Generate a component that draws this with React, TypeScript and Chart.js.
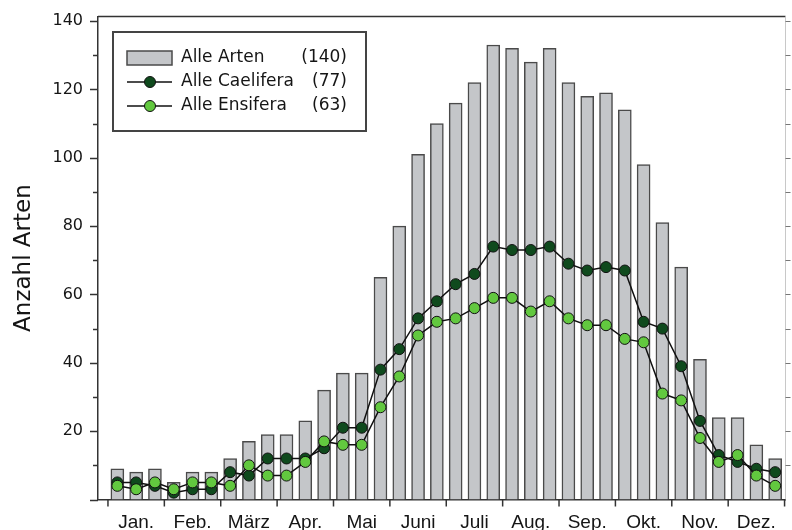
import React, { useEffect, useRef } from "react";
import { Chart, registerables } from "chart.js";

Chart.register(...registerables);

const months = ["Jan.", "Feb.", "März", "Apr.", "Mai", "Juni", "Juli", "Aug.", "Sep.", "Okt.", "Nov.", "Dez."];
const alleArten = [9, 8, 9, 5, 8, 8, 12, 17, 19, 19, 23, 32, 37, 37, 65, 80, 101, 110, 116, 122, 133, 132, 128, 132, 122, 118, 119, 114, 98, 81, 68, 41, 24, 24, 16, 12];
const caelifera = [5, 5, 4, 2, 3, 3, 8, 7, 12, 12, 12, 15, 21, 21, 38, 44, 53, 58, 63, 66, 74, 73, 73, 74, 69, 67, 68, 67, 52, 50, 39, 23, 13, 11, 9, 8];
const ensifera = [4, 3, 5, 3, 5, 5, 4, 10, 7, 7, 11, 17, 16, 16, 27, 36, 48, 52, 53, 56, 59, 59, 55, 58, 53, 51, 51, 47, 46, 31, 29, 18, 11, 13, 7, 4];
const legendLabels = ["Alle Arten", "Alle Caelifera", "Alle Ensifera"];
const legendCounts = ["(140)", "(77)", "(63)"];
const yTickValues = [20, 40, 60, 80, 100, 120, 140];
const yAxisTitle = "Anzahl Arten";

const BAR_FILL = "#c4c6c9";
const BAR_BORDER = "#4a4a4a";
const DARK_GREEN = "#0f4a1d";
const LIGHT_GREEN = "#62c83f";

const ticksPlugin = {
  id: "customTicks",
  afterDraw(chart: any) {
    const ctx = chart.ctx;
    const x = chart.scales.x;
    const y = chart.scales.y;
    const { left, right, top, bottom } = chart.chartArea;
    ctx.save();
    ctx.strokeStyle = "#333";
    ctx.lineWidth = 1.5;
    // left axis ticks
    for (let v = 0; v <= 140; v += 10) {
      const py = Math.round(y.getPixelForValue(v)) + 0.5;
      const len = v % 20 === 0 ? 8 : 5;
      ctx.beginPath();
      ctx.moveTo(left - len, py);
      ctx.lineTo(left, py);
      ctx.stroke();
    }
    // top frame
    ctx.beginPath();
    ctx.moveTo(left, top);
    ctx.lineTo(right, top);
    ctx.stroke();
    // right axis (faint) and ticks
    ctx.strokeStyle = "#c8c8c8";
    ctx.lineWidth = 1;
    ctx.beginPath();
    ctx.moveTo(right, top);
    ctx.lineTo(right, bottom);
    ctx.stroke();
    ctx.strokeStyle = "#777";
    for (let v = 10; v <= 140; v += 10) {
      const py = Math.round(y.getPixelForValue(v)) + 0.5;
      ctx.beginPath();
      ctx.moveTo(right, py);
      ctx.lineTo(right + 5, py);
      ctx.stroke();
    }
    // bottom month boundary ticks
    ctx.strokeStyle = "#333";
    ctx.lineWidth = 1.5;
    for (let m = 0; m <= 12; m++) {
      const px = x.getPixelForValue(m * 3);
      ctx.beginPath();
      ctx.moveTo(px, bottom);
      ctx.lineTo(px, bottom + 7);
      ctx.stroke();
    }
    ctx.restore();
  },
};

const legendPlugin = {
  id: "customLegend",
  afterDraw(chart: any) {
    const ctx = chart.ctx;
    const bx = 113, by = 32, bw = 253, bh = 99;
    ctx.save();
    ctx.fillStyle = "#ffffff";
    ctx.fillRect(bx, by, bw, bh);
    ctx.strokeStyle = "#444";
    ctx.lineWidth = 2;
    ctx.strokeRect(bx, by, bw, bh);

    const rowY = [58, 82, 106];
    const symL = 127, symR = 172, symC = 150;
    // bar symbol
    ctx.fillStyle = BAR_FILL;
    ctx.fillRect(symL, rowY[0] - 7, symR - symL, 14);
    ctx.strokeStyle = BAR_BORDER;
    ctx.lineWidth = 1.5;
    ctx.strokeRect(symL, rowY[0] - 7, symR - symL, 14);
    // line symbols
    const fills = [DARK_GREEN, LIGHT_GREEN];
    for (let i = 0; i < 2; i++) {
      const yy = rowY[i + 1];
      ctx.strokeStyle = "#111";
      ctx.lineWidth = 1.5;
      ctx.beginPath();
      ctx.moveTo(symL, yy);
      ctx.lineTo(symR, yy);
      ctx.stroke();
      ctx.beginPath();
      ctx.arc(symC, yy, 5.5, 0, Math.PI * 2);
      ctx.fillStyle = fills[i];
      ctx.fill();
      ctx.lineWidth = 1;
      ctx.strokeStyle = "#111";
      ctx.stroke();
    }
    ctx.fillStyle = "#151515";
    ctx.font = "17px 'DejaVu Sans'";
    ctx.textBaseline = "middle";
    for (let i = 0; i < 3; i++) {
      ctx.textAlign = "left";
      ctx.fillText(legendLabels[i], 181, rowY[i]);
      ctx.textAlign = "right";
      ctx.fillText(legendCounts[i], 347, rowY[i]);
    }
    ctx.restore();
  },
};

export default function App() {
  const canvasRef = useRef<HTMLCanvasElement | null>(null);

  useEffect(() => {
    if (!canvasRef.current) return;
    const toXY = (arr: number[]) => arr.map((v, i) => ({ x: i + 0.5, y: v }));
    const chart = new Chart(canvasRef.current, {
      type: "bar",
      data: {
        datasets: [
          {
            type: "bar",
            label: legendLabels[0],
            data: toXY(alleArten),
            backgroundColor: BAR_FILL,
            borderColor: BAR_BORDER,
            borderWidth: 1.5,
            barThickness: 13,
            order: 3,
          } as any,
          {
            type: "line",
            label: legendLabels[1],
            data: toXY(caelifera),
            borderColor: "#111",
            borderWidth: 1.5,
            pointBackgroundColor: DARK_GREEN,
            pointBorderColor: "#111",
            pointBorderWidth: 1,
            pointRadius: 5.5,
            tension: 0,
            order: 2,
          } as any,
          {
            type: "line",
            label: legendLabels[2],
            data: toXY(ensifera),
            borderColor: "#111",
            borderWidth: 1.5,
            pointBackgroundColor: LIGHT_GREEN,
            pointBorderColor: "#111",
            pointBorderWidth: 1,
            pointRadius: 5.5,
            tension: 0,
            order: 1,
          } as any,
        ],
      },
      options: {
        animation: false,
        responsive: false,
        maintainAspectRatio: false,
        layout: { padding: { top: 13, right: 5, left: 0, bottom: 0 } },
        plugins: { legend: { display: false }, tooltip: { enabled: false } },
        scales: {
          x: {
            type: "linear",
            min: -0.53,
            max: 36.05,
            offset: false,
            grid: { display: false, tickLength: 7 },
            border: { display: true, color: "#333", width: 1.5 },
            afterBuildTicks: (s: any) => {
              s.ticks = months.map((_, i) => ({ value: i * 3 + 1.5 }));
            },
            ticks: {
              autoSkip: false,
              maxRotation: 0,
              minRotation: 0,
              padding: 5,
              color: "#151515",
              font: { family: "'Liberation Sans', Arial", size: 19 },
              callback: (_v: any, i: number) => months[i],
            },
            afterFit: (s: any) => {
              s.height = 30.5;
            },
          },
          y: {
            type: "linear",
            min: 0,
            max: 141.3,
            grid: { display: false, tickLength: 8 },
            border: { display: true, color: "#333", width: 1.5 },
            afterBuildTicks: (s: any) => {
              s.ticks = yTickValues.map((v) => ({ value: v }));
            },
            ticks: {
              padding: 7,
              color: "#151515",
              font: { family: "'DejaVu Sans'", size: 16 },
            },
            title: {
              display: true,
              text: yAxisTitle,
              color: "#151515",
              font: { family: "'DejaVu Sans'", size: 23 },
              padding: { top: 10, bottom: 0 },
            },
            afterFit: (s: any) => {
              s.width = 98;
            },
          },
        },
      } as any,
      plugins: [ticksPlugin, legendPlugin],
    });
    return () => chart.destroy();
  }, []);

  return (
    <div style={{ position: "absolute", left: 0, top: 0, width: 792, height: 530, background: "#fff" }}>
      <canvas ref={canvasRef} width={792} height={530} style={{ display: "block", width: 792, height: 530 }} />
    </div>
  );
}
